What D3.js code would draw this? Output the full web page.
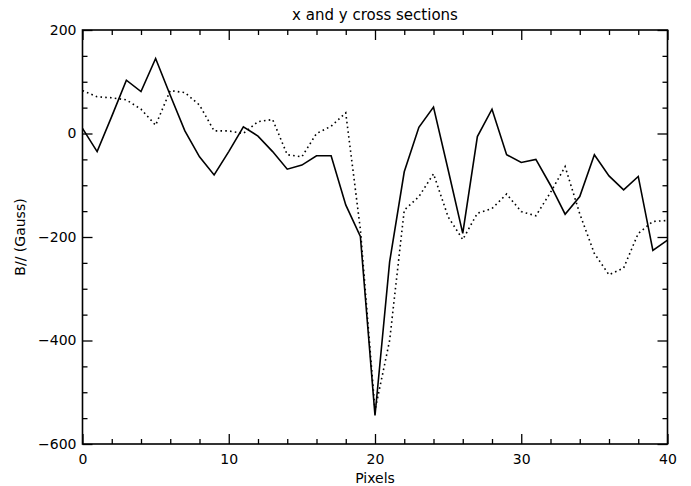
<!DOCTYPE html>
<html>
<head>
<meta charset="utf-8">
<script src="https://cdn.jsdelivr.net/npm/d3@7"></script>
<style>
  body { margin: 0; background: #fff; }
  text { font-family: "DejaVu Sans", sans-serif; fill: #000; }
</style>
</head>
<body>
<div id="chart"></div>
<script>
// pixel index along the cut
var pixels = d3.range(0, 41);
// x cross section (solid)
var xCut = [10, -35, 33, 103, 81, 145, 74, 5, -45, -80, -35, 13, -5, -35, -69, -61,
            -43, -43, -138, -199, -545, -248, -74, 12, 51, -70, -193, -6, 47, -41,
            -56, -50, -100, -156, -122, -41, -82, -109, -83, -226, -206];
// y cross section (dotted)
var yCut = [83, 71, 69, 65, 47, 16, 83, 79, 55, 5, 5, 0, 23, 27, -41, -45,
            0, 14, 40, -185, -535, -400, -148, -122, -78, -161, -205, -154, -145, -117,
            -151, -159, -114, -64, -155, -232, -273, -260, -193, -170, -168];
var xTicks = [0, 10, 20, 30, 40];
var yTicks = [-600, -400, -200, 0, 200];

var W = 691, H = 486;
var margin = {top: 30, right: 23.5, bottom: 42, left: 82.5},
    width = W - margin.left - margin.right,
    height = H - margin.top - margin.bottom;

var x = d3.scaleLinear().domain([0, 40]).range([0, width]);
var y = d3.scaleLinear().domain([-600, 200]).range([height, 0]);

var svg = d3.select("#chart").append("svg")
    .attr("width", W)
    .attr("height", H)
  .append("g")
    .attr("transform", "translate(" + margin.left + "," + margin.top + ")");

// data lines
var line = d3.line()
    .x(function(d, i) { return x(pixels[i]); })
    .y(function(d) { return y(d); });

svg.append("path")
    .datum(xCut)
    .attr("fill", "none")
    .attr("stroke", "#000")
    .attr("stroke-width", 1.6)
    .attr("d", line);

svg.append("path")
    .datum(yCut)
    .attr("fill", "none")
    .attr("stroke", "#000")
    .attr("stroke-width", 1.6)
    .attr("stroke-dasharray", "1.6,3.2")
    .attr("d", line);

// box axes with inward ticks, IDL style
var majLen = 10, minLen = 5;
var xMinor = d3.range(0, 41, 2).filter(function(v) { return v % 10 !== 0; });
var yMinor = d3.range(-600, 201, 50).filter(function(v) { return v % 200 !== 0; });

function styleAxis(g) {
  g.select(".domain").remove();
  g.selectAll(".tick line").attr("stroke", "#000").attr("stroke-width", 1.3);
}

// bottom
svg.append("g")
    .attr("transform", "translate(0," + height + ")")
    .call(d3.axisBottom(x).tickValues(xTicks).tickSize(-majLen).tickPadding(10).tickFormat(d3.format("d")))
    .call(styleAxis)
    .selectAll("text").style("font-size", "14px");
svg.append("g")
    .attr("transform", "translate(0," + height + ")")
    .call(d3.axisBottom(x).tickValues(xMinor).tickSize(-minLen).tickFormat(""))
    .call(styleAxis);
// top
svg.append("g")
    .call(d3.axisTop(x).tickValues(xTicks).tickSize(-majLen).tickFormat(""))
    .call(styleAxis);
svg.append("g")
    .call(d3.axisTop(x).tickValues(xMinor).tickSize(-minLen).tickFormat(""))
    .call(styleAxis);
// left
svg.append("g")
    .call(d3.axisLeft(y).tickValues(yTicks).tickSize(-majLen).tickPadding(6)
      .tickFormat(function(d) { return d < 0 ? "\u2212" + Math.abs(d) : d; }))
    .call(styleAxis)
    .selectAll("text").style("font-size", "14px");
svg.append("g")
    .call(d3.axisLeft(y).tickValues(yMinor).tickSize(-minLen).tickFormat(""))
    .call(styleAxis);
// right
svg.append("g")
    .attr("transform", "translate(" + width + ",0)")
    .call(d3.axisRight(y).tickValues(yTicks).tickSize(-majLen).tickFormat(""))
    .call(styleAxis);
svg.append("g")
    .attr("transform", "translate(" + width + ",0)")
    .call(d3.axisRight(y).tickValues(yMinor).tickSize(-minLen).tickFormat(""))
    .call(styleAxis);

// frame
svg.append("rect")
    .attr("width", width)
    .attr("height", height)
    .attr("fill", "none")
    .attr("stroke", "#000")
    .attr("stroke-width", 1.6);

// titles
svg.append("text")
    .attr("x", width / 2)
    .attr("y", -10)
    .attr("text-anchor", "middle")
    .style("font-size", "15px")
    .text("x and y cross sections");

svg.append("text")
    .attr("x", width / 2)
    .attr("y", height + 39)
    .attr("text-anchor", "middle")
    .style("font-size", "14px")
    .text("Pixels");

svg.append("text")
    .attr("transform", "translate(" + (-58) + "," + (height / 2) + ") rotate(-90)")
    .attr("text-anchor", "middle")
    .style("font-size", "14px")
    .text("B// (Gauss)");
</script>
</body>
</html>
